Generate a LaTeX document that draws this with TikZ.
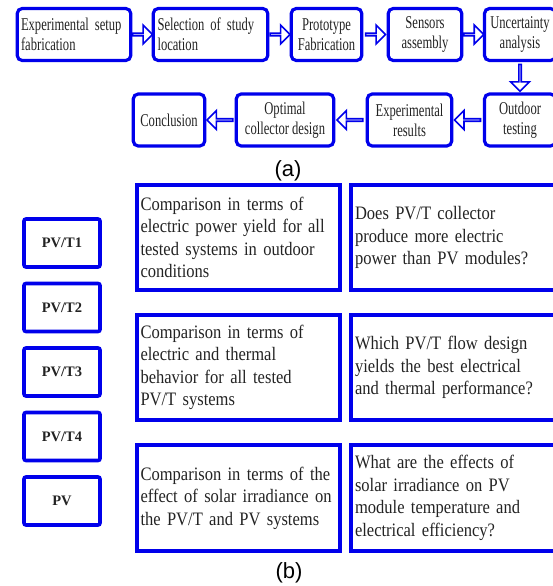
\documentclass[tikz,border=0pt]{standalone}
\usepackage{fontspec}
\setmainfont{Liberation Serif}
\newfontfamily\narrowserif[FakeStretch=0.7]{Liberation Serif}
\newfontfamily\bodyserif[FakeStretch=0.87]{Liberation Serif}
\newfontfamily\labelsans{Liberation Sans}
\usetikzlibrary{shapes.arrows}

\definecolor{stepblue}{RGB}{0,0,235}
\definecolor{inktext}{RGB}{35,35,35}

\tikzset{
  stepbox/.style={draw=stepblue, line width=3.2pt, rounded corners=5pt,
    minimum height=52pt, inner xsep=5.5pt, inner ysep=0pt, text=inktext,
    font=\narrowserif\fontsize{18}{20}\selectfont},
  flowarr/.style={single arrow, draw=stepblue, line width=1.6pt, fill=white,
    inner sep=0pt, minimum width=19pt, single arrow head extend=5.5pt},
  pvbox/.style={draw=stepblue, line width=3.6pt, rounded corners=2pt,
    minimum width=76pt, minimum height=48pt, text=inktext,
    font=\bfseries\fontsize{14.5}{16}\selectfont},
  aimbox/.style={draw=stepblue, line width=3.8pt, minimum height=105.5pt,
    align=left, text=inktext, font=\bodyserif\fontsize{19}{22.5}\selectfont},
  sublabel/.style={font=\labelsans\fontsize{22}{24}\selectfont}
}

\begin{document}
\begin{tikzpicture}[x=1pt, y=-1pt]
  \useasboundingbox (0,0) rectangle (552,586);

  % (a) work flow
  \node[stepbox, minimum width=113.5pt, text width=106pt, inner xsep=3.75pt, align=left] (setup) at (74,34.5) {Experimental setup\\fabrication};
  \node[stepbox, minimum width=114.5pt, text width=106pt, inner xsep=4.25pt, align=left] (site) at (210.5,34.5) {Selection of study\\location};
  \node[stepbox, minimum width=70.5pt, align=center] (proto) at (326.5,34.5) {Prototype\\Fabrication};
  \node[stepbox, minimum width=73.5pt, align=center] (sensor) at (425,34.5) {Sensors\\assembly};
  \node[stepbox, minimum width=71pt, align=center] (uncert) at (520,34.5) {Uncertainty\\analysis};

  \node[stepbox, minimum width=71pt, align=center] (outdoor) at (520,120) {Outdoor\\testing};
  \node[stepbox, minimum width=84.5pt, align=center] (results) at (409.5,120) {Experimental\\results};
  \node[stepbox, minimum width=97.5pt, align=center] (design) at (285,120) {Optimal\\collector design};
  \node[stepbox, minimum width=71.5pt, align=center] (concl) at (169,120) {Conclusion};

  \foreach \a/\b in {setup/site, site/proto, proto/sensor, sensor/uncert}
    \path (\a.east) -- node[flowarr, minimum height=20pt] {} (\b.west);
  \path (uncert.south) -- node[flowarr, minimum height=27pt, rotate=-90] {} (outdoor.north);
  \foreach \a/\b in {outdoor/results, results/design, design/concl}
    \path (\a.west) -- node[flowarr, minimum height=26pt, rotate=180] {} (\b.east);

  \node[sublabel] (tagA) at (288,171) {(a)};

  % (b) tested systems and objectives
  \foreach \name [count=\i] in {PV/T1, PV/T2, PV/T3, PV/T4, PV}
    \node[pvbox] (pv\i) at (62, {243+64.5*(\i-1)}) {\name};

  \node[aimbox, minimum width=203.2pt, text width=196pt, inner xsep=3.6pt] (aim1) at (238.5,237.5)
    {Comparison in terms of\\electric power yield for all\\tested systems in outdoor\\conditions};
  \node[aimbox, minimum width=203.2pt, text width=196pt, inner xsep=3.6pt] (aim2) at (238.5,367.5)
    {Comparison in terms of\\electric and thermal\\behavior for all tested\\PV/T systems};
  \node[aimbox, minimum width=203.2pt, text width=196pt, inner xsep=3.6pt] (aim3) at (238.5,498)
    {Comparison in terms of the\\effect of solar irradiance on\\the PV/T and PV systems};

  \node[aimbox, minimum width=204pt, text width=196pt, inner xsep=4pt] (ask1) at (453,237.5)
    {Does PV/T collector\\produce more electric\\power than PV modules?};
  \node[aimbox, minimum width=204pt, text width=196pt, inner xsep=4pt] (ask2) at (453,367.5)
    {Which PV/T flow design\\yields the best electrical\\and thermal performance?};
  \node[aimbox, minimum width=204pt, text width=196pt, inner xsep=4pt] (ask3) at (453,498)
    {What are the effects of\\solar irradiance on PV\\module temperature and\\electrical efficiency?};

  \node[sublabel] (tagB) at (289,573) {(b)};
\end{tikzpicture}
\end{document}
